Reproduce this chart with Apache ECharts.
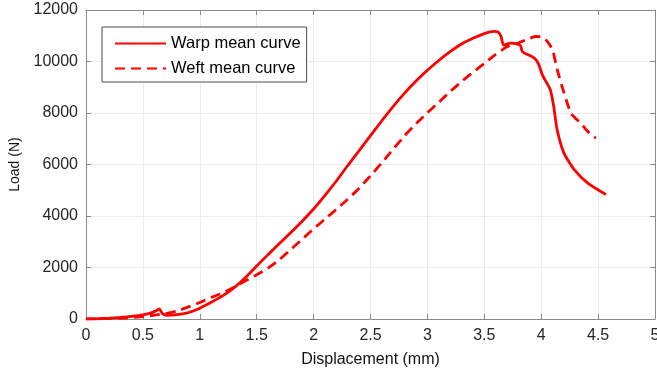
<!DOCTYPE html>
<html>
<head>
<meta charset="utf-8">
<script src="https://cdn.jsdelivr.net/npm/echarts@6/dist/echarts.min.js"></script>
<style>
  html, body { margin: 0; padding: 0; background: #fff; }
  #chart { width: 657px; height: 379px; }
</style>
</head>
<body>
<div id="chart"></div>
<script>
// Displacement (mm) and load (N) for the warp-direction mean curve
const warpDisp = [0, 0.1, 0.2, 0.3, 0.4, 0.5, 0.58, 0.62, 0.645, 0.67, 0.71, 0.8, 0.9, 1.0, 1.1, 1.2, 1.3, 1.4, 1.5, 1.6, 1.7, 1.8, 1.9, 2.0, 2.1, 2.2, 2.3, 2.4, 2.5, 2.6, 2.7, 2.8, 2.9, 3.0, 3.1, 3.2, 3.3, 3.4, 3.5, 3.58, 3.62, 3.645, 3.67, 3.73, 3.8, 3.82, 3.835, 3.94, 3.98, 4.01, 4.08, 4.11, 4.14, 4.2, 4.29, 4.41, 4.57];
const warpLoad = [0, 10, 30, 60, 100, 160, 250, 330, 390, 220, 140, 170, 250, 420, 650, 900, 1210, 1600, 2060, 2500, 2930, 3360, 3800, 4270, 4800, 5360, 5960, 6540, 7120, 7700, 8260, 8770, 9240, 9660, 10040, 10380, 10680, 10900, 11080, 11170, 11150, 11000, 10640, 10710, 10660, 10600, 10380, 10130, 9870, 9480, 8900, 8250, 7350, 6440, 5800, 5280, 4830];

// Displacement (mm) and load (N) for the weft-direction mean curve
const weftDisp = [0, 0.3, 0.5, 0.6, 0.7, 0.8, 0.9, 1.0, 1.1, 1.2, 1.3, 1.4, 1.5, 1.6, 1.7, 1.8, 1.9, 2.0, 2.1, 2.2, 2.3, 2.4, 2.5, 2.6, 2.7, 2.8, 2.9, 3.0, 3.1, 3.2, 3.3, 3.4, 3.5, 3.6, 3.7, 3.8, 3.9, 3.95, 4.0, 4.05, 4.1, 4.14, 4.2, 4.26, 4.3, 4.35, 4.41, 4.48];
const weftLoad = [0, 30, 90, 150, 210, 310, 470, 640, 840, 1010, 1230, 1480, 1720, 1980, 2310, 2700, 3100, 3500, 3880, 4260, 4650, 5080, 5560, 6070, 6600, 7120, 7580, 8010, 8420, 8830, 9220, 9580, 9920, 10280, 10570, 10720, 10900, 10970, 10960, 10800, 10450, 9700, 8780, 8000, 7800, 7600, 7280, 7020];

// Axis ranges and tick steps
const xMin = 0, xMax = 5, xStep = 0.5;
const yMin = 0, yMax = 12000, yStep = 2000;

const seriesNames = ['Warp mean curve', 'Weft mean curve'];

function pairs(xs, ys) {
  return xs.map((x, i) => [x, ys[i]]);
}

const FONT = 'Liberation Sans, Arial, sans-serif';
const AXIS_GRAY = '#8a8a8a';
const GRID_GRAY = '#ececec';
const TEXT = '#262626';

const chart = echarts.init(document.getElementById('chart'), null, { renderer: 'canvas' });

const baseX = {
  type: 'value', min: xMin, max: xMax, interval: xStep,
  axisLine: { show: true, onZero: false, lineStyle: { color: AXIS_GRAY, width: 1 } },
  axisTick: { show: true, inside: true, length: 5, lineStyle: { color: AXIS_GRAY } },
  splitLine: { show: false }
};
const baseY = {
  type: 'value', min: yMin, max: yMax, interval: yStep,
  axisLine: { show: true, onZero: false, lineStyle: { color: AXIS_GRAY, width: 1 } },
  axisTick: { show: true, inside: true, length: 5, lineStyle: { color: AXIS_GRAY } },
  splitLine: { show: false }
};

chart.setOption({
  animation: false,
  backgroundColor: '#ffffff',
  textStyle: { fontFamily: FONT },
  grid: { left: 86, top: 10, right: 2, bottom: 60, containLabel: false, outerBoundsMode: 'none' },
  legend: {
    data: seriesNames,
    orient: 'vertical',
    left: 102, top: 27,
    padding: [8, 6, 5, 12],
    itemWidth: 51, itemHeight: 14, itemGap: 8,
    backgroundColor: '#ffffff',
    borderColor: '#4a4a4a', borderWidth: 1,
    itemStyle: { opacity: 0 },
    textStyle: { fontFamily: FONT, fontSize: 16.5, color: '#000' }
  },
  xAxis: [
    Object.assign({}, baseX, {
      position: 'bottom',
      name: 'Displacement (mm)', nameLocation: 'middle', nameGap: 33,
      nameTextStyle: { fontFamily: FONT, fontSize: 16, color: '#111' },
      axisLabel: { show: true, margin: 9, fontFamily: FONT, fontSize: 16, color: TEXT },
      splitLine: { show: true, lineStyle: { color: GRID_GRAY, width: 1 } }
    }),
    Object.assign({}, baseX, { position: 'top', axisLabel: { show: false } })
  ],
  yAxis: [
    Object.assign({}, baseY, {
      position: 'left',
      name: 'Load (N)', nameLocation: 'middle', nameGap: 64, nameRotate: 90,
      nameTextStyle: { fontFamily: FONT, fontSize: 14, color: '#111' },
      axisLabel: { show: true, margin: 8, fontFamily: FONT, fontSize: 16, color: TEXT,
                   formatter: v => String(v) },
      splitLine: { show: true, lineStyle: { color: GRID_GRAY, width: 1 } }
    }),
    Object.assign({}, baseY, { position: 'right', axisLabel: { show: false } })
  ],
  series: [
    {
      name: seriesNames[0], type: 'line', xAxisIndex: 0, yAxisIndex: 0,
      data: pairs(warpDisp, warpLoad),
      symbol: 'none', smooth: 0.2,
      lineStyle: { color: '#ff0000', width: 2.8, type: 'solid' },
      itemStyle: { color: '#ff0000' },
      z: 3
    },
    {
      name: seriesNames[1], type: 'line', xAxisIndex: 0, yAxisIndex: 0,
      data: pairs(weftDisp, weftLoad),
      symbol: 'none', smooth: 0.2,
      lineStyle: { color: '#ff0000', width: 2.8, type: [10, 6] },
      itemStyle: { color: '#ff0000' },
      z: 2
    }
  ]
});
</script>
</body>
</html>
